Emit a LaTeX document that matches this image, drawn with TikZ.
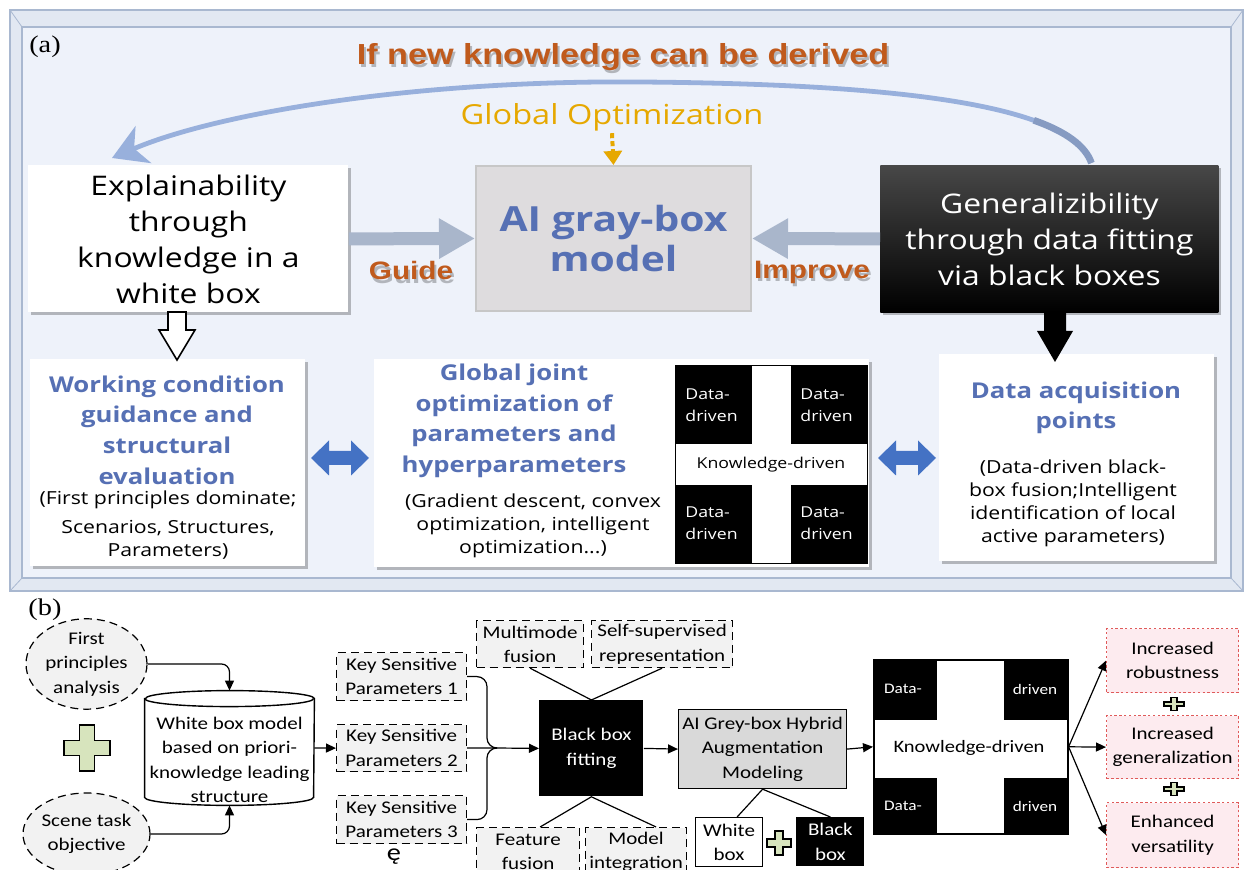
\documentclass[tikz,border=0pt]{standalone}
\usepackage{fontspec}
\setmainfont{Liberation Serif}[FakeStretch=1.18]
\newfontfamily\opsans{Open Sans}[FakeStretch=1.18]
\newfontfamily\arsans{Liberation Sans}[FakeStretch=1.18]
\newfontfamily\calsans{Carlito}[FakeStretch=1.18]
\usetikzlibrary{arrows.meta,calc,shapes.geometric,shadows}

\definecolor{panelbg}{HTML}{EEF2FA}
\definecolor{panelband}{HTML}{E2E8F2}
\definecolor{panelline}{HTML}{A9B8D0}
\definecolor{rust}{HTML}{C05A1C}
\definecolor{goldc}{HTML}{E6A800}
\definecolor{titleblue}{HTML}{5670B4}
\definecolor{greybox}{HTML}{DEDCDE}
\definecolor{slatearrow}{HTML}{A9B6CB}
\definecolor{dblblue}{HTML}{4472C4}
\definecolor{curveblue}{HTML}{98B0DC}
\definecolor{lightfill}{HTML}{F2F2F2}
\definecolor{hybridfill}{HTML}{D9D9D9}
\definecolor{pinkfill}{HTML}{FDEBEF}
\definecolor{dotred}{HTML}{E05A5A}
\definecolor{plusgreen}{HTML}{D7E4BD}

\tikzset{
  shadowed/.style={drop shadow={shadow xshift=1.5pt,shadow yshift=-1.5pt,opacity=0.25,fill=black}},
  topbox/.style={inner sep=0pt, align=center, anchor=north west},
  bigtxt/.style={font=\opsans\fontsize{13.5}{18}\selectfont},
  bluetitle/.style={text=titleblue, align=center, font=\opsans\bfseries\fontsize{10.9}{15.3}\selectfont},
  subtxt/.style={align=center, font=\opsans\fontsize{9}{11.5}\selectfont},
  rusttxt/.style={text=rust, font=\arsans\bfseries\fontsize{12.6}{14}\selectfont},
  rustshade/.style={text=black, opacity=0.25, font=\arsans\bfseries\fontsize{12.6}{14}\selectfont},
  fatarrow/.style={slatearrow, line width=6.5pt, -{Triangle[length=18pt,width=19pt]}},
  qtxt/.style={text=white, align=left, anchor=west, inner sep=0pt, font=\opsans\fontsize{7.5}{11}\selectfont},
  smalltxt/.style={align=center, font=\calsans\fontsize{8.9}{12.2}\selectfont},
  dashbox/.style={smalltxt, draw, dash pattern=on 4pt off 2.5pt, line width=0.6pt, fill=lightfill, inner sep=0pt, anchor=north west},
  dashell/.style={smalltxt, ellipse, draw, dash pattern=on 4pt off 2.5pt, line width=0.6pt, fill=lightfill, inner sep=0pt},
  gainbox/.style={smalltxt, draw=dotred, dash pattern=on 1.2pt off 1.2pt, line width=0.6pt, fill=pinkfill, inner sep=0pt, anchor=north west, minimum width=66pt},
  arr/.style={-{Triangle[length=5pt,width=4.5pt]}, line width=0.6pt},
  gplus/.pic={\draw[fill=plusgreen, line width=0.8pt] (-1,-0.32) -- (-0.32,-0.32) -- (-0.32,-1) -- (0.32,-1) -- (0.32,-0.32) -- (1,-0.32) -- (1,0.32) -- (0.32,0.32) -- (0.32,1) -- (-0.32,1) -- (-0.32,0.32) -- (-1,0.32) -- cycle;},
  dblarrow/.pic={\fill[dblblue] (-29,0) -- (-11,-17.5) -- (-11,-7) -- (11,-7) -- (11,-17.5) -- (29,0) -- (11,17.5) -- (11,7) -- (-11,7) -- (-11,17.5) -- cycle;}
}

\begin{document}
\begin{tikzpicture}[x=0.5pt, y=-0.5pt]
\useasboundingbox (0,0) rectangle (1248,870);

% panel (a)
\fill[panelband] (10,10) rectangle (1243,591);
\draw[panelline, line width=1pt] (10,10) rectangle (1243,591);
\fill[panelbg] (22,27) rectangle (1231,578);
\draw[panelline, line width=1.2pt] (22,27) rectangle (1231,578);
\draw[panelline] (10,10) -- (22,27) (1243,10) -- (1231,27) (10,591) -- (22,578) (1243,591) -- (1231,578);

\node[font=\rmfamily\fontsize{12}{14}\selectfont] (taga) at (45,47) {(a)};
\node[rustshade, font=\arsans\bfseries\fontsize{14.5}{16}\selectfont] (deriveshade) at (625,60) {If new knowledge can be derived};
\node[rusttxt, font=\arsans\bfseries\fontsize{14.5}{16}\selectfont] (derive) at (623,57) {If new knowledge can be derived};
\node[text=goldc, inner sep=1pt, font=\opsans\fontsize{13.8}{15}\selectfont] (gopt) at (612,117) {Global Optimization};

\node[topbox, bigtxt, fill=white, shadowed, minimum width=160pt, minimum height=73.5pt] (wb) at (28,165) {Explainability\\through\\knowledge in a\\white box};
\node[topbox, fill=greybox, draw=black!22, line width=1pt, minimum width=137.5pt, minimum height=72.5pt, text=titleblue, font=\opsans\bfseries\fontsize{17.3}{20}\selectfont] (gb) at (475,165) {AI gray-box\\model};
\node[topbox, bigtxt, text=white, top color=black!72, middle color=black, bottom color=black, shadowed, minimum width=169pt, minimum height=73.5pt] (gen) at (880,165) {Generalizibility\\through data fitting\\via black boxes};

\draw[fatarrow] (wb.east) -- (gb.west);
\draw[fatarrow] (gen.west) -- (gb.east);
\node[rustshade] (guideshade) at (413,274) {Guide};
\node[rusttxt] (guide) at (411,271) {Guide};
\node[rustshade] (improveshade) at (814,275) {Improve};
\node[rusttxt] (improve) at (812,272) {Improve};

\draw[goldc, line width=2pt, dash pattern=on 2.5pt off 1.5pt, -{Triangle[length=7pt,width=9pt]}] (gopt.south) -- (gb.north);
% feedback curve, thicker where it leaves the black box
\draw[curveblue, line width=2.4pt, -{Stealth[length=17pt,width=20pt,inset=5pt]}]
  ($(gen.north)+(42,-2)$) .. controls (1070,105) and (900,84) .. (640,82)
  .. controls (420,80) and (220,112) .. ($(wb.north west)+(84,-7)$);
\draw[curveblue!88!black, line width=3.4pt]
  ($(gen.north)+(42,-2)$) .. controls (1085.4,145.6) and (1065.5,131.5) .. (1033.8,120.3);

\node[topbox, fill=white, shadowed, minimum width=137.5pt, minimum height=103.5pt] (wc) at (30,359) {};
\node[topbox, fill=white, shadowed, minimum width=247.5pt, minimum height=104pt] (gj) at (374,359) {};
\node[topbox, fill=white, shadowed, minimum width=137.5pt, minimum height=103.5pt] (da) at (939,354) {};

\node[bluetitle] (wctitle) at (167,430) {Working condition\\guidance and\\structural\\evaluation};
\node[subtxt] (wcsub) at (168,525) {(First principles dominate;\\[3pt]Scenarios, Structures,\\Parameters)};
\node[bluetitle] (gjtitle) at (514,421) {Global joint\\optimization of\\parameters and\\hyperparameters};
\node[subtxt] (gjsub) at (533,526) {(Gradient descent, convex\\optimization, intelligent\\optimization...)};
\node[bluetitle] (datitle) at (1076,408) {Data acquisition\\points};
\node[subtxt] (dasub) at (1073,503) {(Data-driven black-\\box fusion;Intelligent\\identification of local\\active parameters)};

% knowledge / data cross inside the middle box
\node[draw=black, fill=white, line width=0.6pt, inner sep=0pt, anchor=north west, minimum width=96pt, minimum height=99pt] (kd1) at (675,365) {};
\fill (kd1.north west) rectangle ++(77,79);
\fill (kd1.north east) rectangle ++(-77,79);
\fill (kd1.south west) rectangle ++(77,-79);
\fill (kd1.south east) rectangle ++(-77,-79);
\node[qtxt] (kd1a) at (685,405) {Data-\\driven};
\node[qtxt] (kd1b) at (800,405) {Data-\\driven};
\node[qtxt] (kd1c) at (685,523) {Data-\\driven};
\node[qtxt] (kd1d) at (800,523) {Data-\\driven};
\node[font=\opsans\fontsize{7.5}{9}\selectfont] (kd1k) at (771,465) {Knowledge-driven};

% block arrows
\coordinate (h0) at (177,312);
\draw[fill=white, line width=0.8pt] (h0) ++(-9,0) -- ++(18,0) -- ++(0,18) -- ++(9,0) -- ++(-18,30) -- ++(-18,-30) -- ++(9,0) -- cycle;
\coordinate (k0) at (1055,312);
\fill (k0) ++(-11,0) -- ++(22,0) -- ++(0,19) -- ++(7,0) -- ++(-18,31) -- ++(-18,-31) -- ++(7,0) -- cycle;
\pic (lr1) at (340,458) {dblarrow};
\pic (lr2) at (907,458) {dblarrow};

% panel (b)
\node[font=\rmfamily\fontsize{12}{14}\selectfont] (tagb) at (45,610) {(b)};
\node[dashell, minimum width=60.5pt, minimum height=40pt] (fp) at (86.5,664) {First\\principles\\analysis};
\node[dashell, minimum width=60.5pt, minimum height=41pt] (st) at (86.5,834) {Scene task\\objective};
\pic (plusa) [scale=23] at (87,748) {gplus};

\node[inner sep=0pt, minimum width=84.5pt, minimum height=57pt] (wbm) at (229.5,748) {};
\draw[fill=white, line width=0.7pt] ([yshift=-4pt]wbm.north west) -- ([yshift=4pt]wbm.south west)
  arc[start angle=180, end angle=360, x radius=42.25pt, y radius=4pt] -- ([yshift=-4pt]wbm.north east)
  arc[start angle=0, end angle=180, x radius=42.25pt, y radius=4pt] -- cycle;
\draw[line width=0.7pt] ([yshift=-4pt]wbm.north west) arc[start angle=180, end angle=360, x radius=42.25pt, y radius=4pt];
\node[smalltxt] (wbmtxt) at (229.5,760) {White box model\\based on priori-\\knowledge leading\\structure};

\draw[arr, rounded corners=4pt] (fp.east) -| (wbm.north);
\draw[arr, rounded corners=4pt] (st.east) -| (wbm.south);

\node[dashbox, minimum width=65pt, minimum height=24pt] (ksp1) at (336,652) {Key Sensitive\\Parameters 1};
\node[dashbox, minimum width=65pt, minimum height=23.5pt] (ksp2) at (336,724) {Key Sensitive\\Parameters 2};
\node[dashbox, minimum width=65pt, minimum height=24pt] (ksp3) at (336,795) {Key Sensitive\\Parameters 3};
\node[font=\calsans\fontsize{12}{14}\selectfont] (ogon) at (394,857) {ę};
\draw[arr] (wbm.east) -- (ksp2.west);

\coordinate (jn) at (495,748);
\draw[line width=0.6pt, rounded corners=5pt] (ksp1.east) -| ([xshift=-4pt]jn) -- (jn);
\draw[line width=0.6pt, rounded corners=5pt] (ksp3.east) -| ([xshift=-4pt]jn) -- (jn);
\draw[line width=0.6pt] (ksp2.east) -- (jn);

\node[smalltxt, fill=black, text=white, inner sep=0pt, anchor=north west, minimum width=52pt, minimum height=48pt] (bb) at (539,700) {Black box\\fitting};
\draw[arr] (jn) -- (bb.west);

\node[dashbox, minimum width=53.5pt, minimum height=23.5pt] (mm) at (476,620) {Multimode\\fusion};
\node[dashbox, minimum width=70.5pt, minimum height=23.5pt] (ss) at (591,620) {Self-supervised\\representation};
\node[dashbox, minimum width=51.5pt, minimum height=24pt] (ff) at (476,827) {Feature\\fusion};
\node[dashbox, minimum width=50.5pt, minimum height=24pt] (mi) at (585,827) {Model\\integration};
\draw[line width=0.6pt] (mm.south) -- (bb.north) -- (ss.south);
\draw[line width=0.6pt] ([xshift=6pt]ff.north) -- (bb.south) -- ([xshift=10pt]mi.north);

\node[smalltxt, draw, fill=hybridfill, line width=0.6pt, inner sep=0pt, anchor=north west, minimum width=84pt, minimum height=39.5pt] (ag) at (678,709) {AI Grey-box Hybrid\\Augmentation\\Modeling};
\draw[arr] (bb.east) -- (ag.west);

\node[smalltxt, draw, fill=white, line width=0.6pt, inner sep=0pt, anchor=north west, minimum width=33.5pt, minimum height=24.5pt] (wbx) at (695,817) {White\\box};
\node[smalltxt, fill=black, text=white, inner sep=0pt, anchor=north west, minimum width=34pt, minimum height=24.5pt] (bbx) at (796,817) {Black\\box};
\pic (plusb) [scale=12] at (779,843) {gplus};
\draw[line width=0.6pt] ([xshift=4pt]wbx.north) -- (ag.south) -- (bbx.north);

% knowledge / data cross in panel (b)
\node[draw=black, fill=white, line width=0.8pt, inner sep=0pt, anchor=north west, minimum width=97pt, minimum height=87pt] (kd2) at (873,659) {};
\fill (kd2.north west) rectangle ++(64,61);
\fill (kd2.north east) rectangle ++(-65,61);
\fill (kd2.south west) rectangle ++(64,-57);
\fill (kd2.south east) rectangle ++(-65,-57);
\node[text=white, font=\calsans\fontsize{7.3}{9}\selectfont] (kd2a) at (903,689) {Data-};
\node[text=white, font=\calsans\fontsize{7.3}{9}\selectfont] (kd2b) at (1035,689) {driven};
\node[text=white, font=\calsans\fontsize{7.3}{9}\selectfont] (kd2c) at (903,806) {Data-};
\node[text=white, font=\calsans\fontsize{7.3}{9}\selectfont] (kd2d) at (1035,806) {driven};
\node[font=\calsans\fontsize{8.7}{10}\selectfont] (kd2k) at (969,748) {Knowledge-driven};
\draw[arr] (ag.east) -- (kd2.west);

\node[gainbox, minimum height=32pt] (g1) at (1106,628) {Increased\\robustness};
\node[gainbox, minimum height=31.5pt] (g2) at (1106,715) {Increased\\generalization};
\node[gainbox, minimum height=32.5pt] (g3) at (1106,802) {Enhanced\\versatility};
\pic (plusc) [xscale=10, yscale=6.5] at (1174,704) {gplus};
\pic (plusd) [xscale=10, yscale=6.5] at (1174,789) {gplus};
\draw[arr] (kd2.east) -- (g1.west);
\draw[arr] (kd2.east) -- (g2.west);
\draw[arr] (kd2.east) -- (g3.west);
\end{tikzpicture}
\end{document}
